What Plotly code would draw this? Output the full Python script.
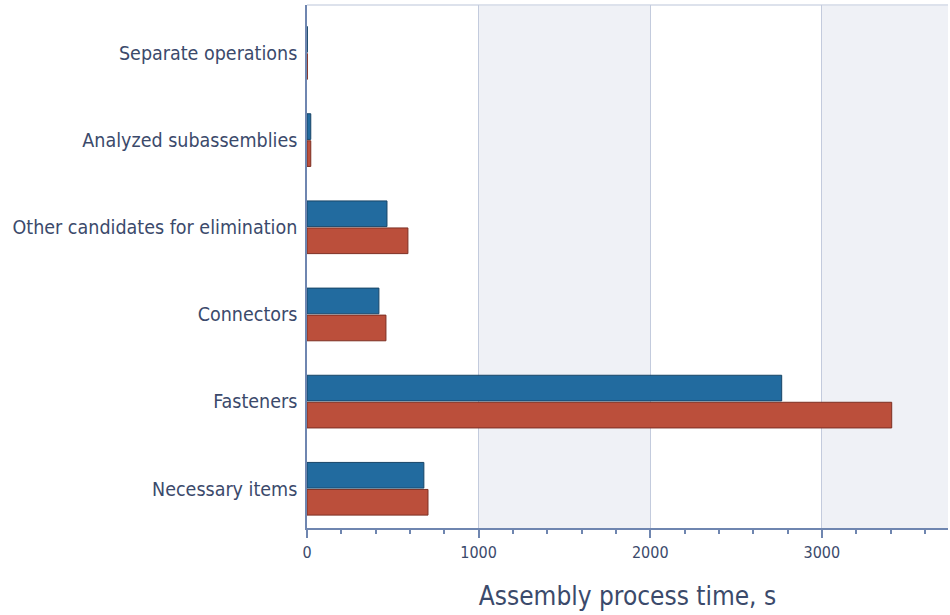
import plotly.graph_objects as go

# Assembly process time by item group, two design variants
categories = [
    "Necessary items",
    "Fasteners",
    "Connectors",
    "Other candidates for elimination",
    "Analyzed subassemblies",
    "Separate operations",
]
time_blue = [681, 2766, 419, 466, 22, 2]
time_red = [705, 3407, 460, 588, 22, 2]

x_ticks = [0, 1000, 2000, 3000]
x_max = 3735

text_color = "#3b4a6b"
font_family = "DejaVu Sans Condensed, Liberation Sans Narrow, sans-serif"

fig = go.Figure()

# red first so it sits below the blue bar within each group
fig.add_trace(go.Bar(
    y=categories, x=time_red, orientation="h",
    marker=dict(color="#bb4f3b", line=dict(color="#7d2f22", width=1)),
    showlegend=False, hoverinfo="x+y",
))
fig.add_trace(go.Bar(
    y=categories, x=time_blue, orientation="h",
    marker=dict(color="#226b9f", line=dict(color="#184567", width=1)),
    showlegend=False, hoverinfo="x+y",
))

# alternating background bands between major ticks
bands = [(1000, 2000), (3000, x_max)]
for x0, x1 in bands:
    fig.add_shape(type="rect", xref="x", yref="paper", x0=x0, x1=x1, y0=0, y1=1,
                  fillcolor="#eff1f6", line=dict(width=0), layer="below")
# top frame line
fig.add_shape(type="line", xref="paper", yref="paper", x0=0, x1=1, y0=1, y1=1,
              line=dict(color="#dde2ec", width=2), layer="below")

fig.update_layout(
    width=950, height=615,
    margin=dict(l=307, r=2, t=5, b=87),
    paper_bgcolor="white", plot_bgcolor="white",
    barmode="group", bargap=0.38, bargroupgap=0.05,
    font=dict(family=font_family, color=text_color),
    xaxis=dict(
        range=[0, x_max], tickvals=x_ticks, ticktext=[str(v) for v in x_ticks],
        showgrid=True, gridcolor="#c3cbdd", gridwidth=1,
        showline=True, linecolor="#6f86b0", linewidth=1.5,
        ticks="outside", ticklen=8, tickcolor="#6f86b0", tickwidth=1.5,
        minor=dict(dtick=200, ticks="outside", ticklen=4, tickcolor="#6f86b0",
                   showgrid=False),
        tickfont=dict(size=16, color=text_color),
        ticklabelstandoff=1,
        title=dict(text="Assembly process time, s",
                   font=dict(size=26, color=text_color), standoff=26),
        zeroline=False, fixedrange=True,
    ),
    yaxis=dict(
        range=[-0.45, 5.55],
        showline=True, linecolor="#6f86b0", linewidth=1.5,
        ticks="", showgrid=False, zeroline=False,
        tickfont=dict(size=19.5, color=text_color),
        ticklabelstandoff=4, fixedrange=True,
    ),
)

fig.write_html("out.html")
